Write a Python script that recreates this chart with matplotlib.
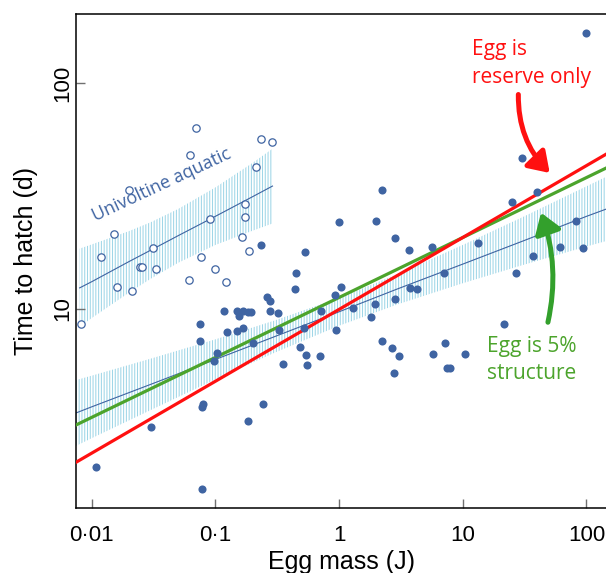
#!/usr/bin/env python3

import numpy as np
import matplotlib
matplotlib.use("Agg")
import matplotlib.pyplot as plt
from matplotlib.patches import FancyArrowPatch

# terrestrial / other species (filled)
egg_mass = [100, 30, 2.24, 40, 25, 1.0, 2.0, 83, 2.84, 13.2, 5.6, 3.66, 61, 93,
            0.234, 0.53, 37, 0.45, 7.1, 27, 1.04, 0.44, 3.75, 4.26, 0.264, 0.277,
            0.93, 2.84, 1.96, 1.29, 1.82, 0.117, 0.151, 0.168, 0.185, 0.193, 0.156,
            0.279, 0.32, 0.72, 0.075, 0.124, 0.151, 0.168, 0.326, 0.526, 0.95, 21.7,
            0.075, 0.2, 0.48, 0.103, 0.098, 0.54, 0.70, 0.55, 0.35, 2.24, 2.68, 3.05,
            7.2, 5.75, 10.5, 7.45, 7.85, 2.8, 0.244, 0.080, 0.0785, 0.183, 0.030,
            0.0108, 0.078]
hatch_time = [166, 46.5, 33.6, 32.8, 29.9, 24.3, 24.5, 24.6, 20.7, 19.6, 18.9, 18.2,
              18.9, 18.6, 19.2, 17.8, 17.2, 14.5, 14.4, 14.4, 12.5, 12.3, 12.4, 12.3,
              11.3, 10.8, 11.5, 11.1, 10.5, 10.1, 9.2, 9.85, 9.85, 9.85, 9.7, 9.7, 9.3,
              9.85, 9.65, 9.85, 8.6, 7.9, 8.0, 8.2, 8.05, 8.2, 8.05, 8.6, 7.2, 7.1, 6.8,
              6.4, 5.9, 6.25, 6.2, 5.65, 5.7, 7.25, 6.7, 6.2, 7.1, 6.3, 6.35, 5.5, 5.5,
              5.2, 3.8, 3.8, 3.7, 3.2, 3.0, 2.0, 1.6]

# univoltine aquatic species (open)
aq_mass = [0.07, 0.235, 0.287, 0.063, 0.212, 0.0202, 0.173, 0.173, 0.0906, 0.0151,
           0.163, 0.0313, 0.186, 0.012, 0.0773, 0.0245, 0.0255, 0.033, 0.1, 0.016,
           0.0211, 0.0615, 0.123, 0.0082]
aq_time = [63.4, 56.4, 54.7, 48, 42.5, 33.5, 29.2, 25.5, 24.9, 21.5, 20.9, 18.6, 18.0,
           17.0, 17.0, 15.3, 15.3, 15.0, 15.0, 12.5, 12.0, 13.4, 13.2, 8.55]

# fitted regression + confidence band (all species)
fit_x = [0.0075, 0.01, 0.03, 0.1, 0.3, 1, 3, 10, 30, 100, 145]
fit_y = [3.47, 3.69, 4.64, 5.98, 7.54, 9.72, 12.3, 15.8, 19.9, 25.7, 27.7]
fit_lo = [2.48, 2.68, 3.57, 4.88, 6.40, 8.43, 10.5, 13.0, 15.6, 18.9, 20.0]
fit_hi = [4.85, 5.07, 6.03, 7.34, 8.89, 11.2, 14.3, 19.2, 25.4, 34.9, 38.5]

# univoltine aquatic regression + band
aq_fit_x = [0.008, 0.01, 0.02, 0.03, 0.05, 0.1, 0.2, 0.29]
aq_fit_y = [12.4, 13.2, 16.2, 18.2, 21.1, 25.7, 31.4, 35.0]
aq_fit_lo = [8.34, 9.11, 11.8, 13.6, 16.0, 19.2, 22.2, 23.9]
aq_fit_hi = [18.5, 19.3, 22.1, 24.2, 27.7, 34.5, 44.3, 51.2]

# model predictions
model_x = [0.0075, 145]
reserve_only = [2.10, 48.5]
five_pct_structure = [3.07, 42.1]

xticks = [0.01, 0.1, 1, 10, 100]
xticklabels = ["0\u00b701", "0\u00b71", "1", "10", "100"]
yticks = [10, 100]
yticklabels = ["10", "100"]

blue = "#3f64a2"
band = "#9fd6e7"
red = "#ff1010"
green = "#4ca42c"

plt.rcParams["hatch.linewidth"] = 0.75
plt.rcParams["font.family"] = ["Liberation Sans", "DejaVu Sans"]

fig = plt.figure(figsize=(6.06, 5.73), dpi=100)
ax = fig.add_axes([76/606, 65/573, 530/606, 494/573])
ax.set_xscale("log")
ax.set_yscale("log")
ax.set_xlim(0.00748, 144)
ax.set_ylim(1.317, 202)

ax.fill_between(fit_x, fit_lo, fit_hi, facecolor="none", edgecolor=band,
                linewidth=0, hatch="||||||", zorder=1)
ax.fill_between(aq_fit_x, aq_fit_lo, aq_fit_hi, facecolor="none", edgecolor=band,
                linewidth=0, hatch="||||||", zorder=1)
ax.plot(fit_x, fit_y, color=blue, lw=0.8, zorder=2)
ax.plot(aq_fit_x, aq_fit_y, color=blue, lw=0.8, zorder=2)

ax.plot(model_x, five_pct_structure, color=green, lw=2.3, zorder=3)
ax.plot(model_x, reserve_only, color=red, lw=2.3, zorder=3)

ax.scatter(egg_mass, hatch_time, s=34, color=blue, linewidths=0, zorder=4)
ax.scatter(aq_mass, aq_time, s=28, facecolors="white", edgecolors=blue,
           linewidths=0.9, zorder=4, clip_on=False)

ax.set_xticks(xticks)
ax.set_xticklabels(xticklabels)
ax.set_yticks(yticks)
ax.set_yticklabels(yticklabels, rotation=90, va="center")
ax.minorticks_off()
ax.tick_params(axis="both", direction="in", length=6.5, width=1.0, color="#707070",
               labelsize=16)
ax.tick_params(axis="x", pad=12)
ax.tick_params(axis="y", pad=2)

ax.spines["right"].set_visible(False)
for s in ["left", "top", "bottom"]:
    ax.spines[s].set_linewidth(1.1)

ax.set_xlabel("Egg mass (J)", fontsize=18, labelpad=3)
ax.set_ylabel("Time to hatch (d)", fontsize=18, labelpad=10)

ann = ["Open Sans", "DejaVu Sans"]
ax.text(0.0367, 35.5, "Univoltine aquatic", color=blue, fontsize=13, family=ann,
        rotation=25, rotation_mode="anchor", ha="center", va="center")
ax.text(11.9, 133, "Egg is", color=red, fontsize=15, family=ann, ha="left", va="baseline")
ax.text(11.9, 99.7, "reserve only", color=red, fontsize=15, family=ann, ha="left", va="baseline")
ax.text(15.6, 6.47, "Egg is 5%", color=green, fontsize=15, family=ann, ha="left", va="baseline")
ax.text(15.6, 4.89, "structure", color=green, fontsize=15, family=ann, ha="left", va="baseline")

arr = FancyArrowPatch((28.2, 91.5), (52.4, 39.2), connectionstyle="arc3,rad=0.22",
                      arrowstyle="-|>,head_length=0.6,head_width=0.4",
                      mutation_scale=20, color=red, lw=3.6, zorder=5)
ax.add_patch(arr)
arr = FancyArrowPatch((48.3, 8.5), (42.2, 27.4), connectionstyle="arc3,rad=0.15",
                      arrowstyle="-|>,head_length=0.6,head_width=0.4",
                      mutation_scale=20, color="#33a02c", lw=3.6, zorder=5)
ax.add_patch(arr)

fig.savefig("out.png", dpi=100)
